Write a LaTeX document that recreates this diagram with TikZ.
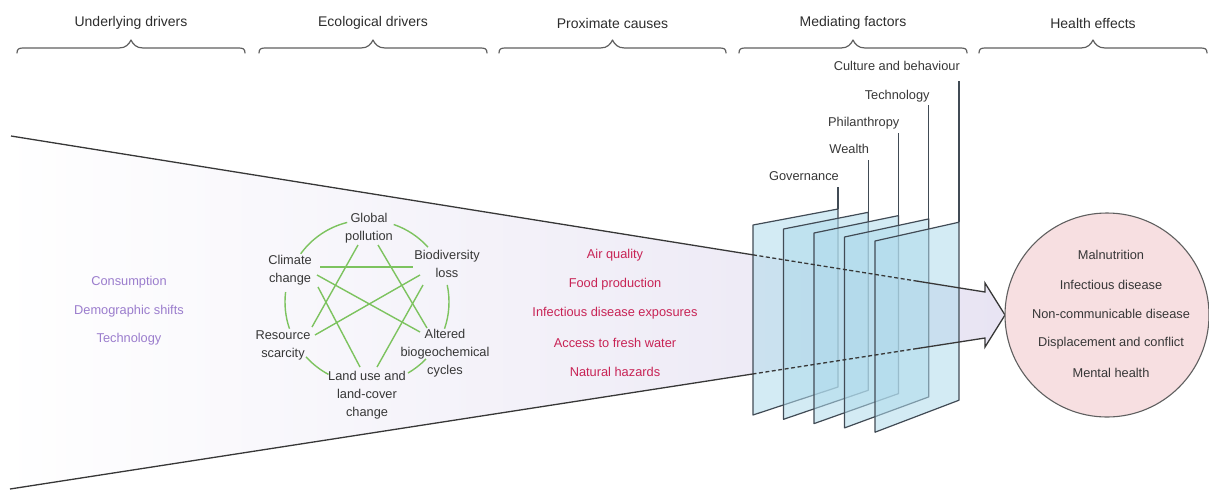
\documentclass[tikz,border=0pt]{standalone}
\usepackage{fontspec}
\setmainfont{Liberation Sans}
\usetikzlibrary{calc}

\definecolor{inkgray}{RGB}{55,55,55}
\definecolor{headgray}{RGB}{45,45,45}
\definecolor{bracegray}{RGB}{95,95,95}
\definecolor{funnelfill}{RGB}{232,228,243}
\definecolor{planefill}{RGB}{175,218,235}
\definecolor{planeedge}{RGB}{65,75,85}
\definecolor{healthfill}{RGB}{247,223,225}
\definecolor{drivertext}{RGB}{155,125,205}
\definecolor{causetext}{RGB}{200,35,85}
\definecolor{ecogreen}{RGB}{125,195,95}

\tikzset{
  headtext/.style={font=\fontsize{14}{16}\selectfont, text=headgray, inner sep=0pt},
  bracestyle/.style={draw=bracegray, line width=1.2pt, line cap=round, line join=round},
  bodytext/.style={font=\fontsize{12.8}{18}\selectfont, inner sep=0pt},
  ecotext/.style={bodytext, align=center, text=inkgray},
  drivernode/.style={bodytext, text=drivertext},
  causenode/.style={bodytext, text=causetext},
  healthnode/.style={bodytext, text=inkgray},
  planestyle/.style={fill=planefill, fill opacity=0.55, draw=planeedge, draw opacity=1, line width=1.2pt, line join=round},
  factorlabel/.style={bodytext, text=inkgray, anchor=east},
  factorline/.style={draw=planeedge, line width=1.2pt},
  funnelline/.style={draw=inkgray, line width=1.3pt, line join=miter},
  behindline/.style={funnelline, dash pattern=on 4pt off 2.5pt},
  ecolink/.style={draw=ecogreen, line width=1.4pt},
}

\begin{document}
\begin{tikzpicture}[x=1pt, y=-1pt]
\useasboundingbox (0,0) rectangle (1209,491);

% column headers with their braces
\foreach \a/\b/\t [count=\i] in {17/245/Underlying drivers, 259/487/Ecological drivers,
    499/726/Proximate causes, 739/967/Mediating factors, 979/1207/Health effects}{
  \pgfmathsetmacro{\m}{(\a+\b)/2}
  \node[headtext] (head\i) at (\m,23) {\t};
  \draw[bracestyle] (\a,53) .. controls (\a,49) and (\a+2,48) .. (\a+6,48)
     -- (\m-12,48) .. controls (\m-5,48) and (\m-2,44) .. (\m,40)
     .. controls (\m+2,44) and (\m+5,48) .. (\m+12,48)
     -- (\b-6,48) .. controls (\b-2,48) and (\b,49) .. (\b,53);
}

% funnel that narrows into a block arrow
\coordinate (ftl) at (11,136);
\coordinate (ftr) at (985,292);
\coordinate (aht) at (985,283);
\coordinate (tip) at (1005,315);
\coordinate (ahb) at (985,347);
\coordinate (fbr) at (985,338);
\coordinate (fbl) at (10,489);
% the fill is cut at the page edge; a thin white rim keeps its open end clean
\path[left color=white, right color=funnelfill, draw=white, line width=0.6pt]
  (0,134.2) -- (ftr) -- (aht) -- (tip) -- (ahb) -- (fbr) -- (0,490.5) -- cycle;

% underlying drivers
\node[drivernode] (cons) at (129,282) {Consumption};
\node[drivernode] (demo) at (129,311) {Demographic shifts};
\node[drivernode] (tech) at (129,339) {Technology};

% ecological drivers
\coordinate (ecoc) at (367,302);
\node[ecotext] (glob) at (369,228) {Global\\pollution};
\node[ecotext] (bio)  at (447,264) {Biodiversity\\loss};
\node[ecotext] (alt)  at (445,353) {Altered\\biogeochemical\\cycles};
\node[ecotext] (land) at (367,395) {Land use and\\land-cover\\change};
\node[ecotext] (res)  at (283,345) {Resource\\scarcity};
\node[ecotext] (clim) at (290,270) {Climate\\change};

\foreach \s/\e in {216/256, 289/318, -12/19, 44/60, 118/138, 161/187}
  \draw[ecolink] (ecoc) ++(\s:82) arc[start angle=\s, end angle=\e, radius=82];

\draw[ecolink] ([shift={(30,-3)}]clim.center) -- ([shift={(-34,3)}]bio.center);
\draw[ecolink] ([shift={(-11,17)}]glob.center) -- ([shift={(29,-18)}]res.center);
\draw[ecolink] ([shift={(9,17)}]glob.center) -- ([shift={(-18,-25)}]alt.center);
\draw[ecolink] ([shift={(27,5)}]clim.center) -- ([shift={(-25,-21)}]alt.center);
\draw[ecolink] ([shift={(28,17)}]clim.center) -- ([shift={(-7,-28)}]land.center);
\draw[ecolink] ([shift={(-27,11)}]bio.center) -- ([shift={(32,-10)}]res.center);
\draw[ecolink] ([shift={(-24,21)}]bio.center) -- ([shift={(10,-28)}]land.center);

% proximate causes
\node[causenode] (air)  at (615,255) {Air quality};
\node[causenode] (food) at (615,284) {Food production};
\node[causenode] (inf)  at (615,313) {Infectious disease exposures};
\node[causenode] (wat)  at (615,343) {Access to fresh water};
\node[causenode] (haz)  at (615,372) {Natural hazards};

% mediating factors: five translucent panes with their labels
\foreach \i/\t/\top/\ly in {0/Governance/187/176, 1/Wealth/160/149, 2/Philanthropy/133/123,
    3/Technology/105/96, 4/Culture and behaviour/81/66}{
  \pgfmathsetmacro{\xl}{753+30.5*\i}
  \pgfmathsetmacro{\xr}{838+30.25*\i}
  \pgfmathsetmacro{\ytl}{225+4*\i}
  \pgfmathsetmacro{\ytr}{209+3.3*\i}
  \pgfmathsetmacro{\ybl}{415+4.3*\i}
  \pgfmathsetmacro{\ybr}{387+3.3*\i}
  \coordinate (pane\i tr) at (\xr,\ytr);
  \path[planestyle] (\xl,\ytl) -- (pane\i tr) -- (\xr,\ybr) -- (\xl,\ybl) -- cycle;
  \node[factorlabel] (fac\i) at (\xr+1,\ly) {\t};
  \coordinate (fac\i top) at (\xr,\top);
  \draw[factorline] (fac\i top) -- (pane\i tr);
}

% funnel outline, dashed where it passes behind the panes
\coordinate (td1) at ($(ftl)!0.7618!(ftr)$);
\coordinate (td2) at ($(ftl)!0.9302!(ftr)$);
\coordinate (bd1) at ($(fbl)!0.7621!(fbr)$);
\coordinate (bd2) at ($(fbl)!0.9303!(fbr)$);
\draw[funnelline] (ftl) -- (td1);
\draw[behindline] (td1) -- (td2);
\draw[funnelline] (td2) -- (ftr) -- (aht) -- (tip) -- (ahb) -- (fbr) -- (bd2);
\draw[behindline] (bd2) -- (bd1);
\draw[funnelline] (bd1) -- (fbl);

% health effects
\node[circle, fill=healthfill, draw=bracegray, line width=1.1pt, minimum size=204pt, inner sep=0pt]
  (health) at (1107,315) {};
\node[healthnode] (maln) at (1111,255) {Malnutrition};
\node[healthnode] (infd) at (1111,285) {Infectious disease};
\node[healthnode] (ncd)  at (1111,314) {Non-communicable disease};
\node[healthnode] (disp) at (1111,343) {Displacement and conflict};
\node[healthnode] (ment) at (1111,373) {Mental health};
\end{tikzpicture}
\end{document}
